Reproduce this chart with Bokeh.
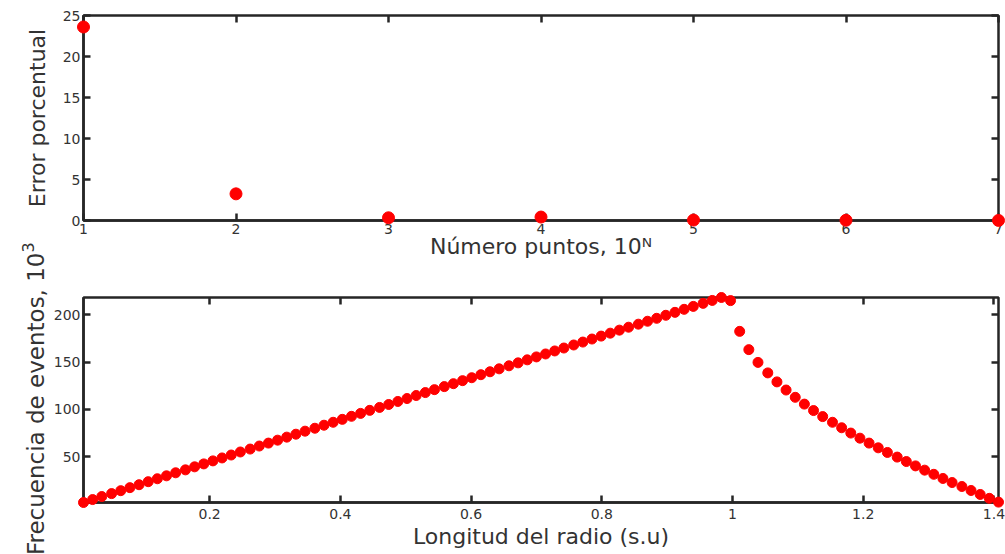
import math
from bokeh.plotting import figure
from bokeh.models import Range1d, FixedTicker, LinearAxis, CustomJSTickFormatter
from bokeh.core.properties import value
from bokeh.layouts import column, row
from bokeh.embed import file_html
from bokeh.resources import INLINE

# ---------------- data ----------------
numero_n = [1, 2, 3, 4, 5, 6, 7]
error_porcentual = [23.6, 3.25, 0.33, 0.42, 0.05, 0.03, 0.01]
ticks_n = [1, 2, 3, 4, 5, 6, 7]
ticks_error = [0, 5, 10, 15, 20, 25]

radio = [
    0.007, 0.021, 0.035, 0.050, 0.064, 0.078, 0.092, 0.106, 0.120, 0.134,
    0.148, 0.163, 0.177, 0.191, 0.205, 0.219, 0.233, 0.247, 0.262, 0.276,
    0.290, 0.304, 0.318, 0.332, 0.346, 0.361, 0.375, 0.389, 0.403, 0.417,
    0.431, 0.445, 0.460, 0.474, 0.488, 0.502, 0.516, 0.530, 0.544, 0.559,
    0.573, 0.587, 0.601, 0.615, 0.629, 0.643, 0.658, 0.672, 0.686, 0.700,
    0.714, 0.728, 0.742, 0.757, 0.771, 0.785, 0.799, 0.813, 0.827, 0.841,
    0.856, 0.870, 0.884, 0.898, 0.912, 0.926, 0.940, 0.955, 0.969, 0.983,
    0.997, 1.011, 1.025, 1.039, 1.054, 1.068, 1.082, 1.096, 1.110, 1.124,
    1.138, 1.153, 1.167, 1.181, 1.195, 1.209, 1.223, 1.237, 1.252, 1.266,
    1.280, 1.294, 1.308, 1.322, 1.336, 1.351, 1.365, 1.379, 1.393, 1.407,
]
frecuencia = [
    1.6, 4.7, 7.9, 11.0, 14.1, 17.3, 20.4, 23.6, 26.7, 29.8,
    33.0, 36.1, 39.3, 42.4, 45.6, 48.7, 51.8, 55.0, 58.1, 61.3,
    64.4, 67.5, 70.7, 73.8, 77.0, 80.1, 83.3, 86.4, 89.5, 92.7,
    95.8, 99.0, 102.1, 105.2, 108.4, 111.5, 114.7, 117.8, 120.9, 124.1,
    127.2, 130.4, 133.5, 136.7, 139.8, 142.9, 146.1, 149.2, 152.4, 155.5,
    158.6, 161.8, 164.9, 168.1, 171.2, 174.4, 177.5, 180.6, 183.8, 186.9,
    190.1, 193.2, 196.3, 199.5, 202.6, 205.8, 208.9, 212.1, 215.2, 218.3,
    215.0, 182.5, 163.2, 149.7, 138.6, 129.1, 120.5, 112.8, 105.6, 98.8,
    92.4, 86.4, 80.6, 75.0, 69.6, 64.4, 59.4, 54.5, 49.6, 44.9,
    40.3, 35.8, 31.4, 27.0, 22.7, 18.5, 14.3, 10.1, 6.0, 2.0,
]
ticks_radio = [0.2, 0.4, 0.6, 0.8, 1.0, 1.2, 1.4]
ticks_frecuencia = [50, 100, 150, 200]

label_error = "Error porcentual"
label_numero = "Número puntos, 10\u1d3a"
label_frec = "Frecuencia de eventos, 10"
label_frec_exp = "3"
label_radio = "Longitud del radio (s.u)"

# ---------------- style ----------------
FONT = "DejaVu Sans"
AX = "#262626"
TXT = "#333333"
RED = "#ff0000"
W, H = 1005, 554
STRIP = 50                  # left band holding the rotated y labels
FL, FR = 80, 998            # frame left / right (canvas px)
H1 = 262                    # height of upper panel
H2 = H - H1
T1_TOP, T1_BOT = 15, 220
T2_TOP, T2_BOT = 297, 502
LBL = "22px"
TICK = "14px"


def make(xr, yr, height, top, bottom):
    p = figure(width=W - STRIP, height=height, x_range=xr, y_range=yr,
               output_backend="svg", toolbar_location=None, tools="",
               min_border_left=FL - STRIP, min_border_right=W - FR,
               min_border_top=top, min_border_bottom=bottom)
    p.grid.visible = False
    p.outline_line_color = AX
    p.outline_line_width = 2.5
    p.background_fill_color = "white"
    p.border_fill_color = "white"
    return p


def style_axis(ax, ticks, standoff=4):
    ax.ticker = FixedTicker(ticks=ticks)
    ax.major_tick_in = 7
    ax.major_tick_out = 0
    ax.minor_tick_line_color = None
    ax.major_tick_line_color = AX
    ax.major_tick_line_width = 2.5
    ax.axis_line_color = AX
    ax.axis_line_width = 2.5
    ax.major_label_text_font = FONT
    ax.major_label_text_font_size = TICK
    ax.major_label_text_color = TXT
    ax.major_label_standoff = standoff
    ax.axis_label_text_font = FONT
    ax.axis_label_text_font_size = LBL
    ax.axis_label_text_font_style = "normal"
    ax.axis_label_text_color = TXT


def blank_axis(ticks):
    return LinearAxis(ticker=FixedTicker(ticks=ticks),
                      formatter=CustomJSTickFormatter(code="return ''"),
                      major_label_text_font_size="0px", major_label_standoff=0,
                      major_tick_in=7, major_tick_out=0,
                      major_tick_line_color=AX, major_tick_line_width=2.5,
                      minor_tick_line_color=None, axis_line_color=None)


# ---------------- upper panel ----------------
p1 = make(Range1d(min(ticks_n), max(ticks_n)), Range1d(min(ticks_error), max(ticks_error)),
          H1, T1_TOP, H1 - T1_BOT)
style_axis(p1.xaxis[0], ticks_n, standoff=3)
style_axis(p1.yaxis[0], ticks_error, standoff=3)
p1.xaxis[0].axis_label = label_numero
p1.xaxis[0].axis_label_standoff = -3
p1.add_layout(blank_axis(ticks_n), "above")
p1.add_layout(blank_axis(ticks_error), "right")
p1.scatter(numero_n, error_porcentual, size=12, color=RED, level="overlay")

# ---------------- lower panel ----------------
p2 = make(Range1d(min(radio), max(radio)), Range1d(min(frecuencia), max(frecuencia)),
          H2, T2_TOP - H1, H - T2_BOT)
style_axis(p2.xaxis[0], ticks_radio, standoff=6)
p2.xaxis[0].formatter = CustomJSTickFormatter(code="return String(Math.round(tick*10)/10)")
style_axis(p2.yaxis[0], ticks_frecuencia, standoff=3)
p2.xaxis[0].axis_label = label_radio
p2.xaxis[0].axis_label_standoff = 2
p2.add_layout(blank_axis(ticks_radio), "above")
p2.add_layout(blank_axis(ticks_frecuencia), "right")
p2.scatter(radio, frecuencia, size=10, color=RED, level="overlay")

# ---------------- left band with rotated y labels ----------------
s = figure(width=STRIP, height=H, x_range=Range1d(0, STRIP), y_range=Range1d(0, H),
           x_axis_type=None, y_axis_type=None, output_backend="svg",
           toolbar_location=None, tools="", min_border=0)
s.grid.visible = False
s.outline_line_color = None
s.background_fill_color = "white"
s.border_fill_color = "white"
up = math.pi / 2
JUNCTION = 252   # canvas y where "10" ends and the exponent starts
s.text(x=[37], y=[H - (T1_TOP + T1_BOT) / 2], text=[label_error], angle=up,
       text_align="center", text_baseline="middle",
       text_font=value(FONT), text_font_size=LBL, text_color=TXT)
s.text(x=[35], y=[H - JUNCTION], text=[label_frec], angle=up,
       text_align="right", text_baseline="middle",
       text_font=value(FONT), text_font_size="23px", text_color=TXT)
s.text(x=[27], y=[H - JUNCTION], text=[label_frec_exp], angle=up,
       text_align="left", text_baseline="middle",
       text_font=value(FONT), text_font_size="16px", text_color=TXT)

layout = row(s, column(p1, p2))
open("out.html", "w").write(file_html(layout, INLINE, title="plot"))
